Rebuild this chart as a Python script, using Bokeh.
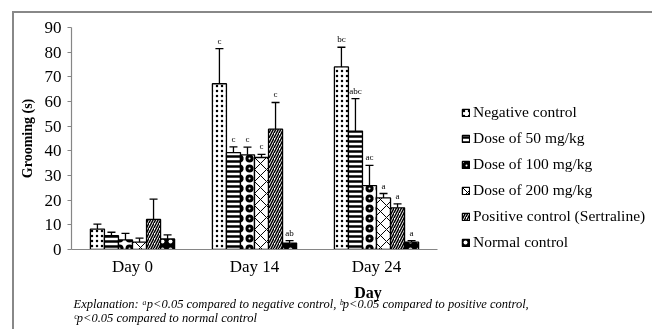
from bokeh.plotting import figure
from bokeh.models import (ColumnDataSource, Range1d, FixedTicker,
                          Whisker, TeeHead, Legend, LegendItem, Title)
from bokeh.core.properties import value
from bokeh.embed import file_html
from bokeh.resources import INLINE

# ---------------- data ----------------
days = ["Day 0", "Day 14", "Day 24"]
groups = ["Negative control", "Dose of 50 mg/kg", "Dose of 100 mg/kg",
          "Dose of 200 mg/kg", "Positive control (Sertraline)", "Normal control"]

neg_mean = [8.3, 67.2, 74.0]
neg_sd = [2.0, 14.2, 8.0]
d50_mean = [5.6, 39.3, 48.0]
d50_sd = [1.4, 2.3, 13.2]
d100_mean = [3.9, 38.4, 25.9]
d100_sd = [2.6, 3.1, 8.2]
d200_mean = [3.0, 37.3, 20.9]
d200_sd = [1.6, 1.3, 1.8]
pos_mean = [12.2, 48.8, 16.9]
pos_sd = [8.2, 10.8, 1.6]
norm_mean = [4.3, 2.6, 3.0]
norm_sd = [1.6, 1.0, 0.6]

neg_sig = ["", "c", "bc"]
d50_sig = ["", "c", "abc"]
d100_sig = ["", "c", "ac"]
d200_sig = ["", "c", "a"]
pos_sig = ["", "c", "a"]
norm_sig = ["", "ab", "a"]

y_ticks = [0, 10, 20, 30, 40, 50, 60, 70, 80, 90]

note = ("Explanation: \u1d43p<0.05 compared to negative control, "
        "\u1d47p<0.05 compared to positive control,\n"
        "\u1d9cp<0.05 compared to normal control")

means = [neg_mean, d50_mean, d100_mean, d200_mean, pos_mean, norm_mean]
sds = [neg_sd, d50_sd, d100_sd, d200_sd, pos_sd, norm_sd]
sigs = [neg_sig, d50_sig, d100_sig, d200_sig, pos_sig, norm_sig]

# ---------------- styles / layout ----------------
styles = [
    dict(fill_color="white", hatch_pattern="dot", hatch_color="black", hatch_scale=5, hatch_weight=4),
    dict(fill_color="white", hatch_pattern="horizontal_line", hatch_color="black", hatch_scale=5, hatch_weight=2.5),
    dict(fill_color="white", hatch_pattern="ring", hatch_color="black", hatch_scale=10, hatch_weight=3),
    dict(fill_color="white", hatch_pattern="diagonal_cross", hatch_color="black", hatch_scale=12, hatch_weight=1),
    dict(fill_color="white", hatch_pattern="right_diagonal_line", hatch_color="black", hatch_scale=5, hatch_weight=1.5),
    dict(fill_color="black", hatch_pattern="dot", hatch_color="white", hatch_scale=8, hatch_weight=2),
]

SERIF = "Liberation Serif"
AXIS_GRAY = "#868686"
W, H = 650, 330
LEFT, TOP = 57, 14
FRAME_H = 222
BOTTOM = H - TOP - FRAME_H
UNIT_PX = 122.0          # pixels per day-group
frame_w = W - LEFT

n_days = len(days)
centers = [k + 0.5 for k in range(n_days)]

p = figure(x_range=Range1d(0, frame_w / UNIT_PX),
           y_range=Range1d(0, 90),
           width=W, height=H,
           output_backend="svg", toolbar_location=None,
           min_border_left=LEFT, min_border_right=0,
           min_border_top=TOP, min_border_bottom=BOTTOM)
p.styles = {"position": "fixed", "left": "12px", "top": "11px", "margin": "0",
            "border-left": "2px solid #888888", "border-top": "2px solid #888888",
            "border-right": "none", "border-bottom": "none"}
p.outline_line_color = None
p.xgrid.visible = False
p.ygrid.visible = False
p.background_fill_color = "white"
p.border_fill_color = "white"

n = len(groups)
bw = 0.115
items = []
for i in range(n):
    off = (i - (n - 1) / 2) * bw
    xs = [c + off for c in centers]
    tops = [m + s for m, s in zip(means[i], sds[i])]
    src = ColumnDataSource(dict(x=xs, mean=means[i], top=tops, sig=sigs[i]))
    r = p.vbar(x="x", top="mean", bottom=0, width=bw, source=src,
               line_color="black", line_width=1.3, **styles[i])
    w = Whisker(base="x", upper="top", lower="mean", source=src,
                dimension="height", line_color="black", line_width=1.3,
                upper_head=TeeHead(size=8, line_color="black", line_width=1.3),
                lower_head=None)
    p.add_layout(w)
    p.text(x="x", y="top", text="sig", source=src, text_align="center",
           text_baseline="bottom", y_offset=-3, text_font=value(SERIF),
           text_font_size="9px", text_color="black")
    items.append(LegendItem(label=groups[i], renderers=[r]))

legend = Legend(items=items, location=(390, -2),
                glyph_width=9, glyph_height=9, label_standoff=3,
                label_height=18, spacing=8, padding=0, margin=0,
                border_line_color=None, background_fill_alpha=0,
                label_text_font=SERIF, label_text_font_size="15.5px",
                label_text_color="black")
p.add_layout(legend)

# axes
p.yaxis.ticker = FixedTicker(ticks=y_ticks)
p.yaxis.minor_tick_line_color = None
p.yaxis.major_tick_out = 4
p.yaxis.major_tick_in = 0
p.yaxis.major_label_standoff = 6
p.yaxis.axis_label = "Grooming (s)"
p.yaxis.axis_label_standoff = 7
p.yaxis.axis_label_text_font = SERIF
p.yaxis.axis_label_text_font_style = "bold"
p.yaxis.axis_label_text_font_size = "14px"

p.xaxis.ticker = FixedTicker(ticks=centers)
p.xaxis.major_label_overrides = {c: d for c, d in zip(centers, days)}
p.xaxis.bounds = (0, n_days)
p.xaxis.minor_tick_line_color = None
p.xaxis.major_tick_out = 0
p.xaxis.major_tick_in = 0
p.xaxis.major_label_standoff = 7
p.xaxis.axis_label = "Day"
p.xaxis.axis_label_standoff = 5
p.xaxis.axis_label_text_font = SERIF
p.xaxis.axis_label_text_font_style = "bold"
p.xaxis.axis_label_text_font_size = "16px"

for ax in (p.xaxis, p.yaxis):
    ax.axis_line_color = AXIS_GRAY
    ax.axis_line_width = 1.2
    ax.major_tick_line_color = AXIS_GRAY
    ax.major_label_text_font = SERIF
    ax.major_label_text_font_size = "17px"
    ax.major_label_text_color = "black"
    ax.axis_label_text_color = "black"

p.add_layout(Title(text=note, align="left", offset=2, standoff=-16,
                   text_font=SERIF, text_font_style="italic",
                   text_font_size="12.5px", text_color="black",
                   text_line_height=1.02), "below")

open("out.html", "w").write(file_html(p, INLINE))
